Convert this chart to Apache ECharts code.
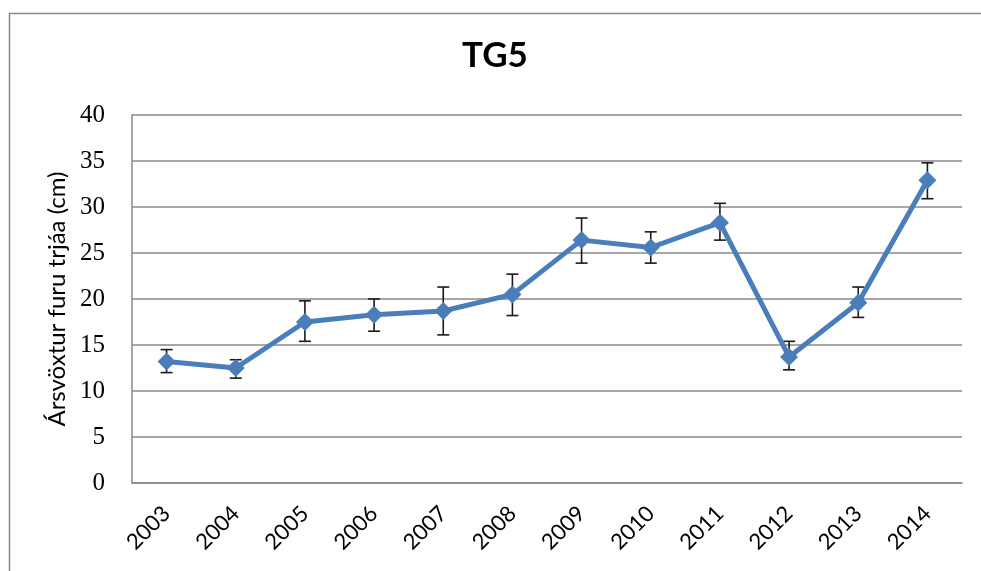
<!DOCTYPE html>
<html>
<head>
<meta charset="utf-8">
<script src="https://cdn.jsdelivr.net/npm/echarts@6/dist/echarts.min.js"></script>
<style>html,body{margin:0;padding:0;background:#fff;}#c{width:981px;height:571px;}</style>
</head>
<body>
<div id="c"></div>
<script>
const years = ['2003','2004','2005','2006','2007','2008','2009','2010','2011','2012','2013','2014'];
const growth = [13.2, 12.5, 17.5, 18.3, 18.7, 20.5, 26.4, 25.6, 28.3, 13.7, 19.6, 32.9];
const errLow = [12.0, 11.4, 15.4, 16.5, 16.1, 18.2, 23.9, 23.9, 26.4, 12.3, 18.0, 30.9];
const errHigh = [14.5, 13.4, 19.8, 20.0, 21.3, 22.7, 28.8, 27.3, 30.4, 15.4, 21.3, 34.8];
const yTicks = [0, 5, 10, 15, 20, 25, 30, 35, 40];

const chart = echarts.init(document.getElementById('c'));
const errData = years.map((y, i) => [i, errLow[i], errHigh[i]]);
chart.setOption({
  animation: false,
  backgroundColor: '#fff',
  graphic: [{
    type: 'rect', left: 7, top: 11, z: -1,
    shape: { width: 1000, height: 600 },
    style: { fill: 'none', stroke: '#8a8a8a', lineWidth: 1.5 }
  }],
  title: {
    text: 'TG5', left: 457, top: 33,
    textStyle: { fontFamily: 'Lato', fontWeight: 'bold', fontSize: 35, color: '#000' }
  },
  grid: { left: 132, right: 19, top: 115, bottom: 88 },
  xAxis: {
    type: 'category', data: years, boundaryGap: true,
    axisLine: { lineStyle: { color: '#8a8a8a', width: 1.5 } },
    axisTick: { show: false },
    axisLabel: { rotate: 45, margin: 27, fontFamily: 'Lato', fontSize: 22, color: '#000' }
  },
  yAxis: {
    type: 'value', min: yTicks[0], max: yTicks[yTicks.length - 1], interval: 5,
    name: 'Ársvöxtur furu trjáa (cm)', nameLocation: 'middle', nameGap: 58,
    nameTextStyle: { fontFamily: 'Lato', fontSize: 24, color: '#000' },
    axisLine: { show: true, lineStyle: { color: '#8a8a8a', width: 1.5 } },
    axisTick: { show: false },
    axisLabel: { margin: 27, fontFamily: 'Liberation Serif', fontSize: 25, color: '#000' },
    splitLine: { lineStyle: { color: '#8a8a8a', width: 1.5 } }
  },
  series: [
    {
      type: 'custom', z: 1,
      data: errData,
      renderItem: function (params, api) {
        const x = api.value(0);
        const lo = api.coord([x, api.value(1)]);
        const hi = api.coord([x, api.value(2)]);
        const w = 6;
        const st = { stroke: '#1a1a1a', lineWidth: 1.6 };
        return {
          type: 'group',
          children: [
            { type: 'line', shape: { x1: lo[0], y1: lo[1], x2: hi[0], y2: hi[1] }, style: st },
            { type: 'line', shape: { x1: lo[0] - w, y1: lo[1], x2: lo[0] + w, y2: lo[1] }, style: st },
            { type: 'line', shape: { x1: hi[0] - w, y1: hi[1], x2: hi[0] + w, y2: hi[1] }, style: st }
          ]
        };
      }
    },
    {
      type: 'line', z: 2,
      data: growth,
      symbol: 'diamond', symbolSize: 18,
      lineStyle: { color: '#4A7EBB', width: 5 },
      itemStyle: { color: '#4A7EBB' }
    }
  ]
});
</script>
</body>
</html>
